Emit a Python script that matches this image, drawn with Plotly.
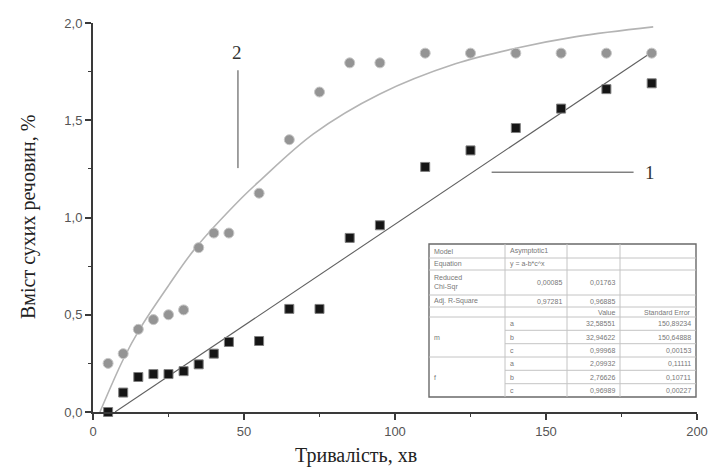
import plotly.graph_objects as go

# ---- data ----
time_min = [5, 10, 15, 20, 25, 30, 35, 40, 45, 55, 65, 75, 85, 95, 110, 125, 140, 155, 170, 185]
series1 = [0.0, 0.10, 0.18, 0.195, 0.195, 0.21, 0.245, 0.30, 0.36, 0.365, 0.53, 0.53,
           0.895, 0.96, 1.26, 1.345, 1.46, 1.56, 1.66, 1.69]
series2 = [0.25, 0.30, 0.425, 0.475, 0.50, 0.525, 0.845, 0.92, 0.92, 1.125, 1.40, 1.645,
           1.795, 1.795, 1.845, 1.845, 1.845, 1.845, 1.845, 1.845]

fit1_x = [7.3, 185]
fit1_y = [0.0, 1.85]
fit2_x = [2.3, 10, 15.6, 25, 33.8, 49.2, 55.3, 73, 95, 120, 140, 160, 185.5]
fit2_y = [0.0, 0.27, 0.43, 0.65, 0.84, 1.10, 1.19, 1.43, 1.635, 1.79, 1.87, 1.93, 1.98]

label_text = ["1", "2"]
label_x = [184.5, 47.8]
label_y = [1.233, 1.85]
leader1_x = [132, 179]
leader1_y = [1.233, 1.233]
leader2_x = [48, 48]
leader2_y = [1.757, 1.254]

x_ticks = [0, 50, 100, 150, 200]
y_ticks = [0.0, 0.5, 1.0, 1.5, 2.0]
y_ticktext = ["0,0", "0,5", "1,0", "1,5", "2,0"]
x_title = "Тривалість, хв"
y_title = "Вміст сухих речовин, %"

table_col1 = ["Model", "Equation", "Reduced<br>Chi-Sqr", "Adj. R-Square", "", "", "m", "", "", "f", ""]
table_col2 = ["Asymptotic1", "y = a-b*c^x", "0,00085", "0,97281", "", "a", "b", "c", "a", "b", "c"]
table_col3 = ["", "", "0,01763", "0,96885", "Value", "32,58551", "32,94622", "0,99968",
              "2,09932", "2,76626", "0,96989"]
table_col4 = ["", "", "", "", "Standard Error", "150,89234", "150,64888", "0,00153",
              "0,11111", "0,10711", "0,00227"]

# ---- figure ----
W, H = 715, 475
L, R, T, B = 93, 18, 23, 63
PW, PH = W - L - R, H - T - B


def xp(px):
    return (px - L) / PW


def yp(py):
    return (H - B - py) / PH


fig = go.Figure()

fig.add_trace(go.Scatter(x=fit2_x, y=fit2_y, mode="lines", line=dict(color="#b4b4b4", width=1.6, shape="spline"),
                         hoverinfo="skip"))
fig.add_trace(go.Scatter(x=fit1_x, y=fit1_y, mode="lines", line=dict(color="#606060", width=1.1),
                         hoverinfo="skip"))
fig.add_trace(go.Scatter(x=time_min, y=series2, mode="markers",
                         marker=dict(symbol="circle", size=10, color="#949494",
                                     line=dict(color="#c8c8c8", width=1)), cliponaxis=False))
fig.add_trace(go.Scatter(x=time_min, y=series1, mode="markers",
                         marker=dict(symbol="square", size=9, color="#151515",
                                     line=dict(color="#808080", width=1)), cliponaxis=False))
fig.add_trace(go.Scatter(x=leader1_x, y=leader1_y, mode="lines", line=dict(color="#444", width=1),
                         hoverinfo="skip"))
fig.add_trace(go.Scatter(x=leader2_x, y=leader2_y, mode="lines", line=dict(color="#444", width=1),
                         hoverinfo="skip"))

annotations = []
for t, lx, ly in zip(label_text, label_x, label_y):
    annotations.append(dict(x=lx, y=ly, xref="x", yref="y", text=t, showarrow=False,
                            font=dict(family="Liberation Serif", size=19, color="#333")))

title_font = dict(family="Liberation Serif", size=20, color="#222")
annotations.append(dict(x=xp(356), y=yp(455), xref="paper", yref="paper", text=x_title, showarrow=False,
                        xanchor="center", yanchor="middle", font=title_font))
annotations.append(dict(x=xp(28), y=yp(217), xref="paper", yref="paper", text=y_title, showarrow=False,
                        xanchor="center", yanchor="middle", textangle=-90, font=title_font))

# ---- inset table ----
col_edges = [429, 505, 567, 620, 696]
row_edges = [244, 258, 270, 295, 307, 317, 330.3, 343.7, 357, 370.3, 383.7, 397]
shapes = []
shapes.append(dict(type="rect", xref="paper", yref="paper", x0=xp(col_edges[0]), x1=xp(col_edges[-1]),
                   y0=yp(row_edges[-1]), y1=yp(row_edges[0]), line=dict(color="#6a6a6a", width=1.4),
                   fillcolor="white", layer="above"))
for i, ry in enumerate(row_edges[1:-1], start=1):
    x_start = col_edges[1] if i in (6, 7, 9, 10) else col_edges[0]
    shapes.append(dict(type="line", xref="paper", yref="paper", x0=xp(x_start), x1=xp(col_edges[-1]),
                       y0=yp(ry), y1=yp(ry), line=dict(color="#c4c4c4", width=1), layer="above"))
for cx in col_edges[1:-1]:
    shapes.append(dict(type="line", xref="paper", yref="paper", x0=xp(cx), x1=xp(cx),
                       y0=yp(row_edges[-1]), y1=yp(row_edges[0]), line=dict(color="#c4c4c4", width=1),
                       layer="above"))

tfont = dict(family="Liberation Sans", size=7, color="#777")
for r in range(len(table_col1)):
    yc = yp((row_edges[r] + row_edges[r + 1]) / 2)
    cells = [(table_col1[r], col_edges[0] + 3, "left"),
             (table_col2[r], col_edges[1] + 3 if r in (0, 1) or r >= 5 else col_edges[2] - 3,
              "left" if r in (0, 1) or r >= 5 else "right"),
             (table_col3[r], col_edges[3] - 3, "right"),
             (table_col4[r], col_edges[4] - 3, "right")]
    for txt, px, anc in cells:
        if txt:
            annotations.append(dict(x=xp(px), y=yc, xref="paper", yref="paper", text=txt, showarrow=False,
                                    xanchor=anc, yanchor="middle", font=tfont, align="left"))

axis_common = dict(showline=True, linecolor="#3a3a3a", linewidth=2, ticks="outside", ticklen=6,
                   tickwidth=1.5, tickcolor="#3a3a3a", showgrid=False, zeroline=False, automargin=False,
                   tickfont=dict(family="Liberation Sans", size=13, color="#555"))

fig.update_layout(
    width=W, height=H, margin=dict(l=L, r=R, t=T, b=B, autoexpand=False),
    paper_bgcolor="white", plot_bgcolor="white", showlegend=False, hovermode=False,
    annotations=annotations, shapes=shapes,
    xaxis=dict(range=[0, 200], tickvals=x_ticks,
               minor=dict(ticks="outside", ticklen=3, tickwidth=1.2, tickcolor="#3a3a3a", dtick=25, tick0=0),
               **axis_common),
    yaxis=dict(range=[0, 2.0], tickvals=y_ticks, ticktext=y_ticktext,
               minor=dict(ticks="outside", ticklen=3, tickwidth=1.2, tickcolor="#3a3a3a", dtick=0.25, tick0=0),
               **axis_common),
)

fig.write_html("out.html", config={"displayModeBar": False},
               post_script="document.body.style.margin='0px';document.body.style.overflow='hidden';")
